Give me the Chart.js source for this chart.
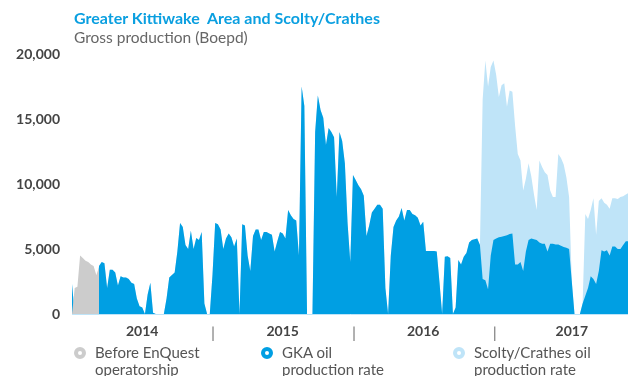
<!DOCTYPE html>
<html>
<head>
<meta charset="utf-8">
<script src="https://cdn.jsdelivr.net/npm/chart.js@4"></script>
<style>
  body { margin: 0; background: #fff; font-family: Lato, "Noto Sans", sans-serif; }
  #wrap { position: relative; width: 628px; height: 376px; overflow: hidden; }
  #chart { position: absolute; left: 0; top: 0; }
  .title { position: absolute; left: 74px; top: 8px; font-size: 16px; font-weight: bold; color: #0a9fe0; white-space: pre; }
  .sub { position: absolute; left: 74px; top: 28px; font-size: 15.5px; color: #666; }
  .item { position: absolute; top: 344px; font-size: 15px; line-height: 17px; color: #555; }
  .dot { position: absolute; left: -21px; top: 3px; width: 4px; height: 4px; border-radius: 50%; background: #fff; border: 4px solid; }
</style>
</head>
<body>
<div id="wrap">
  <canvas id="chart" width="628" height="376"></canvas>
  <div class="title">Greater Kittiwake  Area and Scolty/Crathes</div>
  <div class="sub">Gross production (Boepd)</div>
  <div class="item" style="left:95px"><span class="dot" style="border-color:#cccccc"></span>Before EnQuest<br>operatorship</div>
  <div class="item" style="left:282px"><span class="dot" style="border-color:#009fe3"></span>GKA oil<br>production rate</div>
  <div class="item" style="left:474px"><span class="dot" style="border-color:#bfe4f8"></span>Scolty/Crathes oil<br>production rate</div>
</div>
<script>
// weekly gross production, week 0 = first week of 2014
const gka = [
  2300, 0, 0, 0, 0, 0, 0, 0, 0, 0,
  3700, 4000, 3900, 2000, 3400, 3400, 3200, 2200, 2900, 2800,
  2800, 2700, 2400, 2300, 1200, 600, 500, 0, 1500, 2400,
  100, 0, 0, 0, 0, 1200, 2800, 3000, 3200, 4800,
  7000, 6700, 5300, 5000, 6400, 5000, 5850, 5700, 6300, 800,
  0, 0, 3000, 7000, 6900, 6500, 5000, 5800, 6200, 5900,
  5200, 5800, 0, 6900, 6800, 4500, 3300, 6000, 6500, 6500,
  5700, 6300, 6300, 6200, 6100, 4800, 5600, 6300, 6200, 5800,
  8000, 7600, 7300, 7200, 4500, 17500, 16000, 0, 0, 0,
  14000, 16800, 15700, 15100, 13000, 14300, 14000, 13600, 9000, 14000,
  13300, 11600, 7000, 4000, 10700, 10300, 9900, 9600, 9100, 6000,
  6800, 7800, 8100, 8400, 8400, 8100, 2000, 0, 4500, 6700,
  7200, 7500, 8150, 7200, 8000, 8000, 7700, 7600, 7400, 6800,
  7100, 4850, 4850, 4850, 4850, 4800, 2500, 0, 4400, 4450,
  4300, 0, 500, 4150, 3800, 4400, 4700, 5500, 5700, 5750,
  5800, 5300, 2700, 2600, 1900, 4500, 5700, 5800, 5900, 5950,
  6000, 6050, 6150, 6200, 3800, 3800, 4000, 3300, 4800, 5700,
  5800, 5750, 5700, 5500, 5400, 5400, 4800, 5400, 5400, 5350,
  5350, 5250, 5150, 5100, 5000, 2500, 0, 0, 0, 800,
  1400, 2000, 2900, 2700, 2300, 3300, 4900, 4800, 4900, 4500,
  5200, 5200, 5000, 5000, 5300, 5600, 5600
];

// Scolty/Crathes starts in week 151
const scoltyFrom = 151;
const scolty = [
  0, 13800, 16900, 15600, 14500, 13800, 12600, 10800, 11650, 11750,
  9900, 11050, 10900, 10700, 8500, 7800, 6200, 5600, 5900, 4800,
  3450, 2300, 6300, 5900, 5500, 5900, 4100, 3600, 3650, 6950,
  6750, 6350, 5400, 4000, 0, 0, 0, 0, 0, 6300,
  5300, 5100, 6200, 3800, 5400, 4000, 3750, 3500, 3600, 3700,
  3700, 3850, 4000, 3750, 3600, 3700
];

// before EnQuest operatorship, weeks 0-10
const before = [0, 2000, 2100, 4500, 4300, 4100, 4000, 3800, 3700, 3000, 3600];

const years = ['2014', '2015', '2016', '2017'];
const yearMid = [26, 78, 130, 185];
const yearEdge = [52.2, 104.4, 156.5];

const weeks = gka.map((_, i) => i);
const scoltyData = weeks.map(i => i < scoltyFrom ? 0 : scolty[i - scoltyFrom]);

// x ticks: year names in the middle, "|" at the year boundaries
const xTicks = [];
years.forEach((y, i) => {
  xTicks.push({ value: yearMid[i], text: y });
  if (i < yearEdge.length) xTicks.push({ value: yearEdge[i], text: '|' });
});
const tickText = v => {
  const t = xTicks.find(t => Math.abs(t.value - v) < 0.01);
  return t ? t.text : '';
};
const isSep = c => c.tick && tickText(c.tick.value) === '|';

const ctx = document.getElementById('chart').getContext('2d');
new Chart(ctx, {
  type: 'line',
  data: {
    labels: weeks,
    datasets: [
      { label: 'Before EnQuest operatorship', data: before, backgroundColor: '#cccccc', fill: 'origin', stack: 'pre' },
      { label: 'GKA oil production rate', data: gka, backgroundColor: '#009fe3', fill: 'origin', stack: 'main' },
      { label: 'Scolty/Crathes oil production rate', data: scoltyData, backgroundColor: '#bfe4f8', fill: 'origin', stack: 'main' }
    ]
  },
  options: {
    responsive: false,
    animation: false,
    layout: { padding: { top: 54, left: 0, right: 0, bottom: 0 } },
    elements: {
      point: { radius: 0 },
      line: { borderWidth: 0, tension: 0 }
    },
    plugins: { legend: { display: false }, tooltip: { enabled: false } },
    scales: {
      x: {
        type: 'linear',
        min: 0,
        max: 205.8,
        grid: { display: false, drawTicks: false },
        border: { display: true, color: '#bfe4f8' },
        afterBuildTicks: s => { s.ticks = xTicks.map(t => ({ value: t.value })); },
        afterFit: s => { s.height = 62; },
        ticks: {
          autoSkip: false,
          maxRotation: 0,
          padding: 9,
          callback: v => tickText(v),
          color: c => isSep(c) ? '#777' : '#444',
          font: c => isSep(c)
            ? { family: 'Lato', size: 16, weight: 'normal' }
            : { family: 'Lato', size: 14, weight: 'bold' }
        }
      },
      y: {
        stacked: true,
        min: 0,
        max: 20000,
        grid: { display: false, drawTicks: false },
        border: { display: false },
        afterFit: s => { s.width = 72; },
        ticks: {
          stepSize: 5000,
          padding: 12,
          color: '#444',
          font: { family: 'Lato', size: 14, weight: 'bold' }
        }
      }
    }
  }
});
</script>
</body>
</html>
